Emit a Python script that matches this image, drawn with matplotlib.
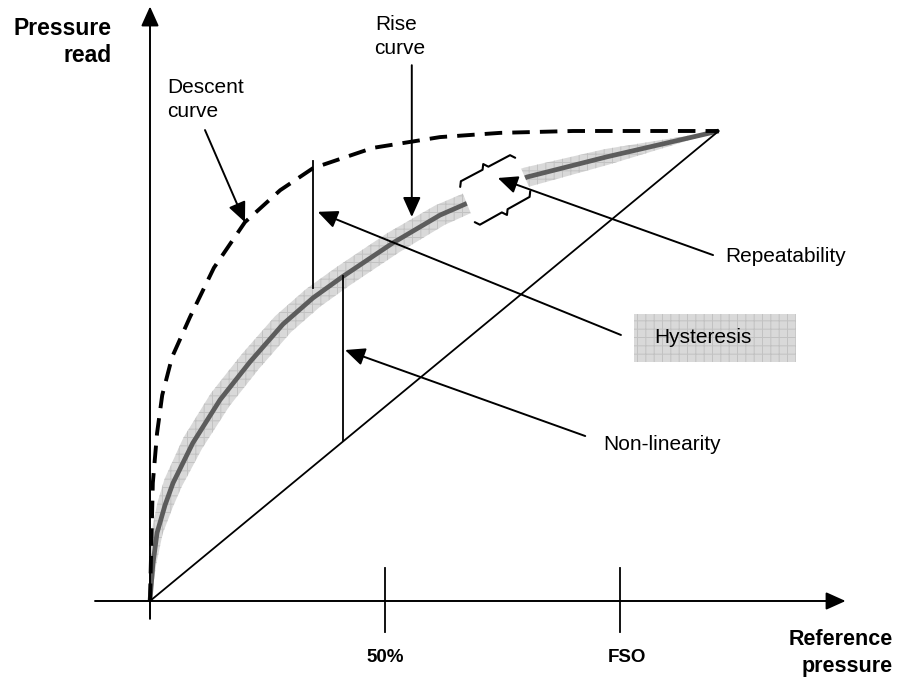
import numpy as np
import matplotlib
matplotlib.use("Agg")
import matplotlib.pyplot as plt
from matplotlib.patches import Polygon, Rectangle

# ---------------------------------------------------------
# Pressure sensor error sketch: rise / descent curves,
# hysteresis, non-linearity and repeatability
# x: reference pressure in % of FSO, y: pressure read in % of FSO
# ---------------------------------------------------------

# rise curve
rise_x = [0, 0.6, 1.5, 3.2, 4.9, 9.1, 14.9, 21.3, 28.3, 34.7, 41.1, 51.7, 61.7, 80.2, 97.2, 121]
rise_y = [0, 7.7, 14.5, 20.4, 25.1, 33.6, 42.8, 50.9, 58.9, 64.5, 69.1, 76.2, 82.1, 90.2, 94.5, 100]

# descent curve
desc_x = [0, 0.2, 0.6, 1.5, 2.6, 4.7, 8.5, 13.6, 20.2, 27.7, 34.7, 47.4, 61.7, 74.5, 90.0, 121]
desc_y = [0, 8.7, 25.1, 35.7, 43.8, 51.9, 60.4, 70.9, 80.6, 87.4, 92.1, 96.4, 98.7, 99.6, 100, 100]

# ideal (linear) response
line_x = [0, 121]
line_y = [0, 100]

tick_pos = [50, 100]
tick_labels = ["50%", "FSO"]

# where the hysteresis and non-linearity gaps are measured
hyst_x = 34.7
nonlin_x = 41.1

plt.rcParams["font.family"] = ["Liberation Sans", "DejaVu Sans"]
plt.rcParams["hatch.linewidth"] = 0.7

fig = plt.figure(figsize=(9, 6.84), dpi=100)
ax = fig.add_axes([0, 0, 1, 1])
ax.set_xlim(-31.915, 159.574)
ax.set_ylim(-17.66, 127.87)
ax.axis("off")

band_face = "#d9d9d9"
band_hatch = "#c2c2c2"

# grey tolerance band around the rise curve
rx = np.array(rise_x, dtype=float)
ry = np.array(rise_y, dtype=float)
tx = np.gradient(rx)
ty = np.gradient(ry)
norm = np.hypot(tx, ty)
nx, ny = -ty / norm, tx / norm
half_w = np.array([0.2, 0.7, 1.2, 1.7, 2.0, 2.3, 2.4, 2.4, 2.4, 2.4, 2.4, 2.4, 2.3, 2.1, 1.7, 0.05])
upper = np.column_stack([rx + nx * half_w, ry + ny * half_w])
lower = np.column_stack([rx - nx * half_w, ry - ny * half_w])
band = Polygon(np.vstack([upper, lower[::-1]]), closed=True, facecolor=band_face,
               edgecolor=band_hatch, lw=0, hatch="++", zorder=1)
ax.add_patch(band)

ax.plot(rise_x, rise_y, color="#5c5c5c", lw=3.4, solid_capstyle="butt",
        solid_joinstyle="round", zorder=2)

desc_line, = ax.plot(desc_x, desc_y, color="black", lw=2.8, zorder=2)
desc_line.set_dashes((4.5, 2.6))

ax.plot(line_x, line_y, color="black", lw=1.3, zorder=4)

# repeatability window: white cut-out with a brace on each side
gap = Polygon([(66.0, 88.1), (77.9, 94.5), (81.1, 87.0), (69.1, 80.4)], closed=True,
              facecolor="white", edgecolor="none", zorder=3)
ax.add_patch(gap)


def brace(p0, p1, outward, d=1.0):
    p0 = np.array(p0, dtype=float)
    p1 = np.array(p1, dtype=float)
    e = (p1 - p0) / np.hypot(*(p1 - p0))
    n = np.array(outward, dtype=float)
    n = n / np.hypot(*n)
    mid = (p0 + p1) / 2
    pts = [p0, p0 + e * 0.7 + n * d, mid - e * 0.7 + n * d, mid + n * 2 * d,
           mid + e * 0.7 + n * d, p1 - e * 0.7 + n * d, p1]
    pts = np.array(pts)
    ax.plot(pts[:, 0], pts[:, 1], color="black", lw=1.5, solid_joinstyle="round",
            solid_capstyle="round", zorder=4)


brace((66.0, 88.1), (77.7, 94.3), (-0.474, 0.881))
brace((69.1, 80.6), (80.9, 87.2), (0.474, -0.881))

# hysteresis and non-linearity gap markers
ax.plot([hyst_x, hyst_x], [66.5, 93.6], color="black", lw=1.3, zorder=4)
nl_top = np.interp(nonlin_x, rise_x, rise_y)
nl_bot = np.interp(nonlin_x, line_x, line_y)
ax.plot([nonlin_x, nonlin_x], [nl_bot, nl_top], color="black", lw=1.3, zorder=4)

# axes with arrow heads
arrow_kw = dict(arrowstyle="-|>,head_length=0.8,head_width=0.36", mutation_scale=15,
                lw=1.4, color="black", shrinkA=0, shrinkB=0)
ax.annotate("", xy=(148, 0), xytext=(-11.7, 0), arrowprops=arrow_kw, zorder=5)
ax.annotate("", xy=(0, 126.5), xytext=(0, -3.8), arrowprops=arrow_kw, zorder=5)

for p, lab in zip(tick_pos, tick_labels):
    ax.plot([p, p], [7.0, -6.6], color="black", lw=1.3, zorder=5)
ax.text(tick_pos[0], -13.0, tick_labels[0], ha="center", va="baseline",
        fontsize=13.5, fontweight="bold")
ax.text(tick_pos[1] + 1.5, -13.0, tick_labels[1], ha="center", va="baseline",
        fontsize=13.5, fontweight="bold")

# axis titles
ax.text(-8.1, 120.4, "Pressure", ha="right", va="baseline", fontsize=16.5, fontweight="bold")
ax.text(-8.1, 114.7, "read", ha="right", va="baseline", fontsize=16.5, fontweight="bold")
ax.text(158.1, -9.4, "Reference", ha="right", va="baseline", fontsize=15.5, fontweight="bold")
ax.text(158.1, -15.1, "pressure", ha="right", va="baseline", fontsize=15.5, fontweight="bold")

# callouts
ax.text(3.6, 108.1, "Descent", fontsize=15, va="baseline")
ax.text(3.6, 103.0, "curve", fontsize=15, va="baseline")
ax.annotate("", xy=(20.2, 80.6), xytext=(11.7, 100.2), arrowprops=arrow_kw, zorder=5)

ax.text(47.9, 121.5, "Rise", fontsize=15, va="baseline")
ax.text(47.6, 116.4, "curve", fontsize=15, va="baseline")
ax.annotate("", xy=(55.7, 81.7), xytext=(55.7, 114.0), arrowprops=arrow_kw, zorder=5)

ax.text(122.3, 72.1, "Repeatability", fontsize=15, va="baseline")
ax.annotate("", xy=(74.0, 90.0), xytext=(119.8, 73.6), arrowprops=arrow_kw, zorder=5)

hyst_box = Rectangle((103.0, 50.9), 34.4, 10.2, facecolor=band_face, edgecolor=band_hatch,
                     lw=0, hatch="++", zorder=1)
ax.add_patch(hyst_box)
ax.text(107.2, 54.9, "Hysteresis", fontsize=15, va="baseline", zorder=2)
ax.annotate("", xy=(35.7, 82.8), xytext=(100.2, 56.6), arrowprops=arrow_kw, zorder=5)

ax.text(96.4, 32.1, "Non-linearity", fontsize=15, va="baseline")
ax.annotate("", xy=(41.5, 53.4), xytext=(92.6, 35.1), arrowprops=arrow_kw, zorder=5)

fig.savefig("out.png", dpi=100)
